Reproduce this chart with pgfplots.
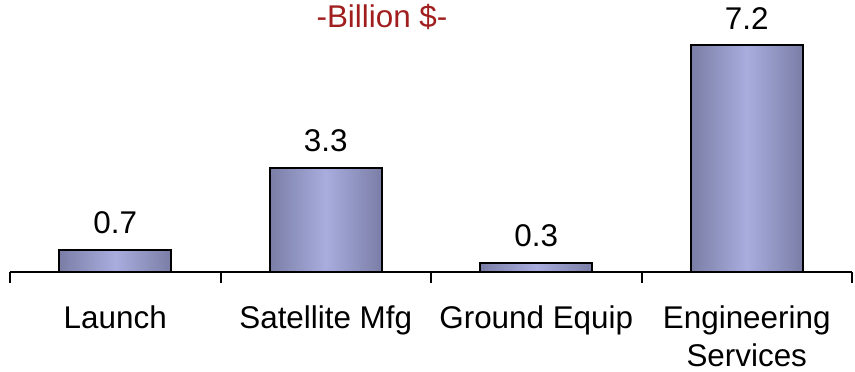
\documentclass[border=0pt]{standalone}
\usepackage{fontspec}
\setmainfont{Liberation Sans}
\usepackage{pgfplots}
\pgfplotsset{compat=1.18}
\definecolor{barEdge}{RGB}{122,126,166}
\definecolor{barMid}{RGB}{168,173,222}
\definecolor{titleRed}{RGB}{160,30,30}
\tikzset{barsty/.style={draw=black, line width=1pt, left color=barEdge, right color=barEdge, middle color=barMid}}
\begin{document}
\begin{tikzpicture}
\begin{axis}[
  scale only axis,
  width=421pt, height=136pt,
  xmin=-0.5, xmax=3.5,
  ymin=0, ymax=8.635,
  ybar, bar width=56pt, bar shift=0pt,
  axis x line=bottom, axis y line=none,
  axis line style={-, line width=1pt, black},
  xtick={0,1,2,3},
  xticklabels={Launch,Satellite Mfg,Ground Equip,{Engineering\\Services}},
  major tick length=0pt,
  minor xtick={-0.5,0.5,1.5,2.5,3.5},
  minor tick length=5.5pt,
  minor tick style={line width=1pt, black},
  tick align=outside,
  xticklabel style={font=\fontsize{15.7}{19}\selectfont, align=center, anchor=north, inner sep=0pt, yshift=-16.5pt},
  nodes near coords,
  nodes near coords style={text=black, font=\fontsize{15.7}{17}\selectfont, anchor=south, inner sep=0pt, yshift=7.5pt, /pgf/number format/assume math mode=true, /pgf/number format/fixed, /pgf/number format/precision=1, /pgf/number format/fixed zerofill},
  clip=false,
]
\addplot[barsty] coordinates {(0,0.7)};
\addplot[barsty] coordinates {(1,3.3)};
\addplot[barsty] coordinates {(2,0.3)};
\addplot[barsty] coordinates {(3,7.2)};
\node[anchor=base, text=titleRed, font=\fontsize{15.7}{17}\selectfont, inner sep=0pt] at (rel axis cs:0.4418,0.9007) {-Billion \$-};
\end{axis}
\pgfresetboundingbox
\path[use as bounding box] (current axis.south west) ++(-5pt,-49.5pt) rectangle ++(427.5pt,185.5pt);
\end{tikzpicture}
\end{document}
